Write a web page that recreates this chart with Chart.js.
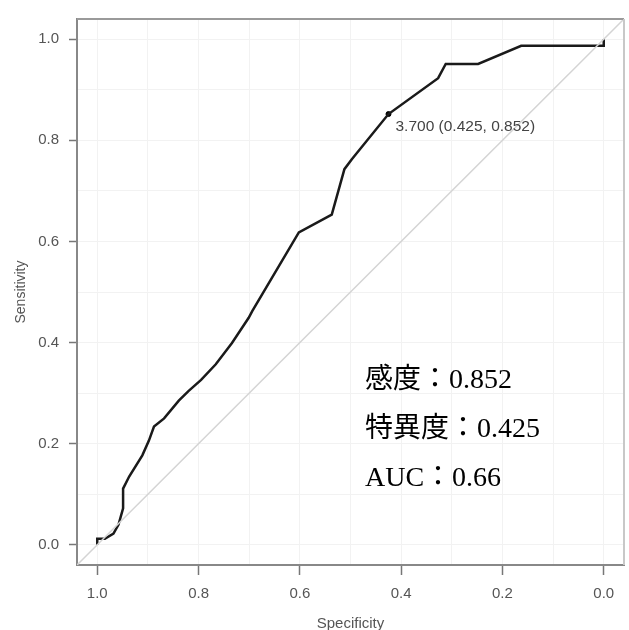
<!DOCTYPE html>
<html>
<head>
<meta charset="utf-8">
<script src="https://cdn.jsdelivr.net/npm/chart.js@4.4.1/dist/chart.umd.min.js"></script>
<style>
  html, body { margin: 0; padding: 0; background: #fff; overflow: hidden; }
  #wrap { width: 629px; height: 630px; position: relative; }
</style>
</head>
<body>
<div id="wrap"><canvas id="myChart"></canvas></div>
<script>
// ROC curve
const specificity = [1.000, 1.000, 0.985, 0.968, 0.958, 0.949, 0.949, 0.937, 0.911, 0.898,
                     0.888, 0.868, 0.839, 0.820, 0.795, 0.766, 0.734, 0.701, 0.694, 0.602,
                     0.537, 0.512, 0.497, 0.425, 0.327, 0.312, 0.248, 0.163, 0.000, 0.000];
const sensitivity = [0.000, 0.012, 0.012, 0.022, 0.040, 0.072, 0.111, 0.135, 0.177, 0.206,
                     0.234, 0.250, 0.285, 0.304, 0.326, 0.357, 0.399, 0.449, 0.462, 0.618,
                     0.653, 0.743, 0.763, 0.852, 0.923, 0.951, 0.951, 0.987, 0.987, 1.000];

// best threshold
const bestSpec = [0.425];
const bestSens = [0.852];
const thresholdLabel = '3.700';

// chance line, corner to corner
const diagSpec = [1.04, -0.04];
const diagSens = [-0.04, 1.04];

const gridTicks = [0, 0.1, 0.2, 0.3, 0.4, 0.5, 0.6, 0.7, 0.8, 0.9, 1.0];
const statLines = ['感度：0.852', '特異度：0.425', 'AUC：0.66'];

const ctx = document.getElementById('myChart');

const isMajor = v => Math.round(v * 10) % 2 === 0;

const extras = {
  id: 'extras',
  afterDatasetsDraw(chart) {
    const { ctx, chartArea: a, scales } = chart;
    ctx.save();
    // top and right frame
    ctx.strokeStyle = '#9a9a9a';
    ctx.lineWidth = 2;
    ctx.beginPath();
    ctx.moveTo(a.left, a.top);
    ctx.lineTo(a.right, a.top);
    ctx.stroke();
    ctx.strokeStyle = '#c8c8c8';
    ctx.beginPath();
    ctx.moveTo(a.right, a.top);
    ctx.lineTo(a.right, a.bottom);
    ctx.stroke();

    // threshold label
    const px = scales.x.getPixelForValue(bestSpec[0]);
    const py = scales.y.getPixelForValue(bestSens[0]);
    ctx.font = '15.5px "Liberation Sans", Arial, sans-serif';
    ctx.fillStyle = '#444';
    ctx.textBaseline = 'alphabetic';
    ctx.fillText(thresholdLabel + ' (' + bestSpec[0].toFixed(3) + ', ' + bestSens[0].toFixed(3) + ')', px + 7, py + 17);

    // stats text
    ctx.font = '28px "Liberation Serif", "Noto Sans CJK JP", serif';
    ctx.fillStyle = '#000';
    statLines.forEach((t, i) => ctx.fillText(t, 365, 388 + i * 49));
    ctx.restore();
  }
};

new Chart(ctx, {
  type: 'scatter',
  data: {
    datasets: [
      {
        data: diagSpec.map((s, i) => ({ x: s, y: diagSens[i] })),
        showLine: true,
        borderColor: '#d4d4d4',
        borderWidth: 1.5,
        pointRadius: 0
      },
      {
        data: specificity.map((s, i) => ({ x: s, y: sensitivity[i] })),
        showLine: true,
        borderColor: '#1a1a1a',
        borderWidth: 2.5,
        pointRadius: 0,
        tension: 0
      },
      {
        data: bestSpec.map((s, i) => ({ x: s, y: bestSens[i] })),
        pointRadius: 2.5,
        pointBackgroundColor: '#000',
        pointBorderColor: '#000'
      }
    ]
  },
  plugins: [extras],
  options: {
    responsive: true,
    maintainAspectRatio: false,
    animation: false,
    layout: { padding: { top: 16, right: 4, bottom: 0, left: 0 } },
    plugins: { legend: { display: false }, tooltip: { enabled: false } },
    scales: {
      x: {
        type: 'linear',
        min: -0.04,
        max: 1.04,
        reverse: true,
        afterBuildTicks: s => { s.ticks = gridTicks.map(v => ({ value: v })); },
        afterFit: s => { s.height = 65; },
        ticks: {
          autoSkip: false,
          maxRotation: 0,
          padding: 10,
          color: '#555',
          font: { family: '"Liberation Sans", Arial, sans-serif', size: 15 },
          callback: v => isMajor(v) ? v.toFixed(1) : ''
        },
        grid: {
          color: '#f2f2f2',
          lineWidth: 1,
          tickLength: 10,
          tickWidth: 1.5,
          tickColor: c => (c.tick && isMajor(c.tick.value)) ? '#777' : 'rgba(0,0,0,0)'
        },
        border: { display: true, color: '#888', width: 2 },
        title: {
          display: true,
          text: 'Specificity',
          color: '#555',
          font: { family: '"Liberation Sans", Arial, sans-serif', size: 15, lineHeight: 1 },
          padding: { top: 0, bottom: -1 }
        }
      },
      y: {
        type: 'linear',
        min: -0.04,
        max: 1.04,
        afterBuildTicks: s => { s.ticks = gridTicks.map(v => ({ value: v })); },
        afterFit: s => { s.width = 77; },
        ticks: {
          autoSkip: false,
          padding: 10,
          color: '#555',
          font: { family: '"Liberation Sans", Arial, sans-serif', size: 15 },
          callback: v => isMajor(v) ? v.toFixed(1) : ''
        },
        grid: {
          color: '#f2f2f2',
          lineWidth: 1,
          tickLength: 8,
          tickWidth: 1.5,
          tickColor: c => (c.tick && isMajor(c.tick.value)) ? '#777' : 'rgba(0,0,0,0)'
        },
        border: { display: true, color: '#888', width: 2 },
        title: {
          display: true,
          text: 'Sensitivity',
          color: '#555',
          font: { family: '"Liberation Sans", Arial, sans-serif', size: 14, lineHeight: 1.2 },
          padding: { top: 13, bottom: 0 }
        }
      }
    }
  }
});
</script>
</body>
</html>
